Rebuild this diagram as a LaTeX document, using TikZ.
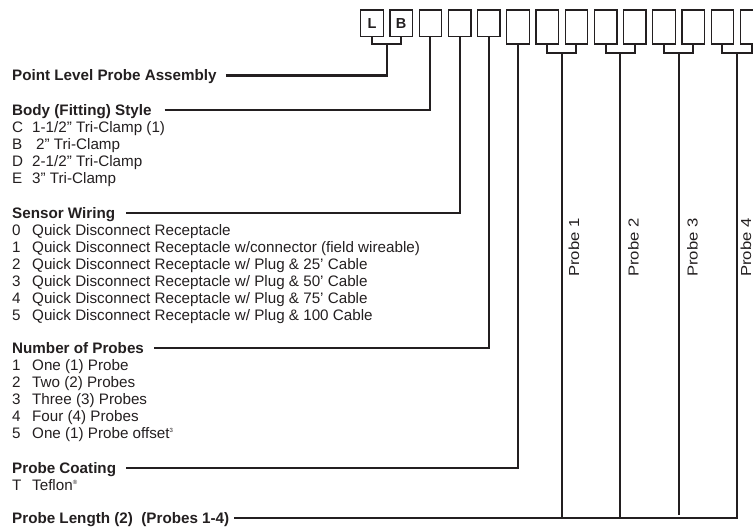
\documentclass[tikz,border=0pt]{standalone}
\usepackage{fontspec}
\usepackage{graphicx}
\setmainfont{Liberation Sans}
\usetikzlibrary{positioning,calc}
\definecolor{ink}{RGB}{35,31,32}
\newcommand{\optkey}[1]{\makebox[20pt][l]{#1}}
\newcommand{\supmark}[1]{\raisebox{6pt}{\fontsize{6}{6}\selectfont #1}}
\newcommand{\probetext}[1]{\scalebox{1.15}[1]{#1}}

\begin{document}
\begin{tikzpicture}[x=1pt,y=-1pt,
	cell/.style={draw=ink,line width=1.3pt,minimum width=22.5pt,inner sep=0pt,anchor=north,text=ink,font=\fontsize{14.5}{14.5}\selectfont\bfseries},
	short/.style={cell,minimum height=26.7pt},
	tall/.style={cell,minimum height=34pt},
	lead/.style={draw=ink,line width=2.1pt},
	row/.style={anchor=west,inner sep=0pt,text height=11pt,text depth=0pt,text=ink,font=\fontsize{15.2}{17}\selectfont},
	head/.style={row,font=\fontsize{15.2}{17}\selectfont\bfseries},
	plabel/.style={row,rotate=90,font=\fontsize{14.5}{17}\selectfont}]
		\useasboundingbox (0,0) rectangle (753,529);
		\clip (0,0) rectangle (753,529);
		
		% code boxes
		\node[short] (c1) at (372,9.3) {L};
		\node[short] (c2) at (401.2,9.3) {B};
		\foreach \i in {3,4,5}
			\node[short] (c\i) at ({372+29.2*(\i-1)},9.3) {};
		\foreach \i in {6,...,14}
			\node[tall] (c\i) at ({372+29.2*(\i-1)},9.3) {};
		
		\draw[lead] (c1.south) -- ++(0,6.7) -| (c2.south);
		\coordinate (lb) at ($(c1.south)!0.5!(c2.south)+(0,6.7)$);
		\foreach \p/\a/\b in {1/7/8,2/9/10,3/11/12,4/13/14} {
			\draw[lead] (c\a.south) -- ++(0,8.4) -| (c\b.south);
			\coordinate (pr\p) at ($(c\a.south)!0.5!(c\b.south)+(0,8.4)$);
		}
		
		% headings and options
		\node[head] (pla) at (12,75.5) {Point Level Probe Assembly};
		
		\node[head] (body) at (12,110) {Body (Fitting) Style};
		\node[row] (body1) at (12,127) {\optkey{C}1-1/2” Tri-Clamp (1)};
		\node[row] (body2) at (12,144) {\optkey{B}\hspace{4pt}2” Tri-Clamp};
		\node[row] (body3) at (12,161) {\optkey{D}2-1/2” Tri-Clamp};
		\node[row] (body4) at (12,178) {\optkey{E}3” Tri-Clamp};
		
		\node[head] (sens) at (12,213) {Sensor Wiring};
		\node[row] (sens0) at (12,230) {\optkey{0}Quick Disconnect Receptacle};
		\node[row] (sens1) at (12,247) {\optkey{1}Quick Disconnect Receptacle w/connector (field wireable)};
		\node[row] (sens2) at (12,264) {\optkey{2}Quick Disconnect Receptacle w/ Plug \& 25’ Cable};
		\node[row] (sens3) at (12,281) {\optkey{3}Quick Disconnect Receptacle w/ Plug \& 50’ Cable};
		\node[row] (sens4) at (12,298) {\optkey{4}Quick Disconnect Receptacle w/ Plug \& 75’ Cable};
		\node[row] (sens5) at (12,315) {\optkey{5}Quick Disconnect Receptacle w/ Plug \& 100 Cable};
		
		\node[head] (nprb) at (12,348) {Number of Probes};
		\node[row] (nprb1) at (12,365) {\optkey{1}One (1) Probe};
		\node[row] (nprb2) at (12,382) {\optkey{2}Two (2) Probes};
		\node[row] (nprb3) at (12,399) {\optkey{3}Three (3) Probes};
		\node[row] (nprb4) at (12,416) {\optkey{4}Four (4) Probes};
		\node[row] (nprb5) at (12,433) {\optkey{5}One (1) Probe offset\supmark{3}};
		
		\node[head] (coat) at (12,468) {Probe Coating};
		\node[row] (coat1) at (12,485) {\optkey{T}Teflon\supmark{®}};
		
		\node[head] (plen) at (12,518) {Probe Length (2)\ \ (Probes 1-4)};
		
		% probe labels
		\node[plabel] (lab1) at (573.5,277) {\probetext{Probe 1}};
		\node[plabel] (lab2) at (633,277) {\probetext{Probe 2}};
		\node[plabel] (lab3) at (692,277) {\probetext{Probe 3}};
		\node[plabel] (lab4) at (745.5,277) {\probetext{Probe 4}};
		
		% leader lines
		\draw[lead] ([xshift=9pt]pla.east) -| (lb);
		\draw[lead] ([xshift=13pt]body.east) -| (c3.south);
		\draw[lead] ([xshift=11pt]sens.east) -| (c4.south);
		\draw[lead] ([xshift=10pt]nprb.east) -| (c5.south);
		\draw[lead] ([xshift=10pt]coat.east) -| (c6.south);
		\draw[lead] ([xshift=5pt]plen.east) -| (pr4);
		\draw[lead] (pr1) -- (pr1 |- plen.east);
		\draw[lead] (pr2) -- (pr2 |- plen.east);
		\draw[lead,shorten >=3pt] (pr3) -- (pr3 |- plen.east);
\end{tikzpicture}
\end{document}
